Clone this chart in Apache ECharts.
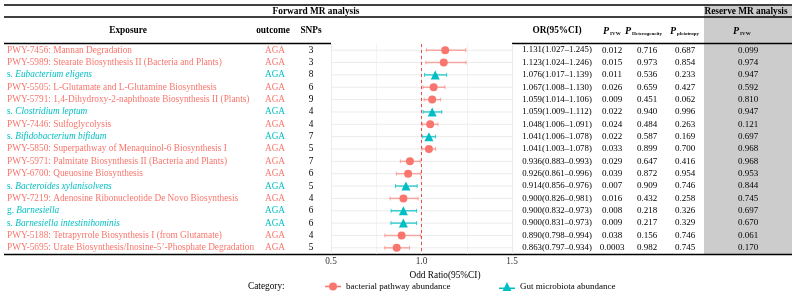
<!DOCTYPE html>
<html>
<head>
<meta charset="utf-8">
<script src="https://cdn.jsdelivr.net/npm/echarts@6/dist/echarts.min.js"></script>
<style>
  html, body { margin: 0; padding: 0; background: #fff; }
  #chart { width: 796px; height: 295px; }
</style>
</head>
<body>
<div id="chart"></div>
<script>
  // 数据
  const exposures = [
    'PWY-7456: Mannan Degradation',
    'PWY-5989: Stearate Biosynthesis II (Bacteria and Plants)',
    's. Eubacterium eligens',
    'PWY-5505: L-Glutamate and L-Glutamine Biosynthesis',
    'PWY-5791: 1,4-Dihydroxy-2-naphthoate Biosynthesis II (Plants)',
    's. Clostridium leptum',
    'PWY-7446: Sulfoglycolysis',
    's. Bifidobacterium bifidum',
    'PWY-5850: Superpathway of Menaquinol-6 Biosynthesis I',
    'PWY-5971: Palmitate Biosynthesis II (Bacteria and Plants)',
    'PWY-6700: Queuosine Biosynthesis',
    's. Bacteroides xylanisolvens',
    'PWY-7219: Adenosine Ribonucleotide De Novo Biosynthesis',
    'g. Barnesiella',
    's. Barnesiella intestinihominis',
    'PWY-5188: Tetrapyrrole Biosynthesis I (from Glutamate)',
    'PWY-5695: Urate Biosynthesis/Inosine-5\u2019-Phosphate Degradation'
  ]
  // 0 = bacterial pathway, 1 = gut microbiota
  const kinds = [0, 0, 1, 0, 0, 1, 0, 1, 0, 0, 0, 1, 0, 1, 1, 0, 0]
  const outcome = 'AGA'
  const snps = [3, 3, 8, 6, 9, 4, 4, 7, 5, 7, 6, 5, 4, 6, 6, 4, 5]
  const orVals = [1.131, 1.123, 1.076, 1.067, 1.059, 1.059, 1.048, 1.041, 1.041, 0.936, 0.926, 0.914, 0.900, 0.900, 0.900, 0.890, 0.863]
  const ciLow = [1.027, 1.024, 1.017, 1.008, 1.014, 1.009, 1.006, 1.006, 1.003, 0.883, 0.861, 0.856, 0.826, 0.832, 0.831, 0.798, 0.797]
  const ciHigh = [1.245, 1.246, 1.139, 1.130, 1.106, 1.112, 1.091, 1.078, 1.078, 0.993, 0.996, 0.976, 0.981, 0.973, 0.973, 0.994, 0.934]
  const pIvw = ['0.012', '0.015', '0.011', '0.026', '0.009', '0.022', '0.024', '0.022', '0.033', '0.029', '0.039', '0.007', '0.016', '0.008', '0.009', '0.038', '0.0003']
  const pHet = ['0.716', '0.973', '0.536', '0.659', '0.451', '0.940', '0.484', '0.587', '0.899', '0.647', '0.872', '0.909', '0.432', '0.218', '0.217', '0.156', '0.982']
  const pPleio = ['0.687', '0.854', '0.233', '0.427', '0.062', '0.996', '0.263', '0.169', '0.700', '0.416', '0.954', '0.746', '0.258', '0.326', '0.329', '0.746', '0.745']
  const pReverse = ['0.099', '0.974', '0.947', '0.592', '0.810', '0.947', '0.121', '0.697', '0.968', '0.968', '0.953', '0.844', '0.745', '0.697', '0.670', '0.061', '0.170']
  const xTicks = [0.5, 1.0, 1.5]
  const groupNames = ['bacterial pathway abundance', 'Gut microbiota abundance']

  const FONT = '"Liberation Serif", "Times New Roman", serif'
  const RED = '#F8766D'
  const TEAL = '#00BFC4'
  const BAR = ['rgba(248,118,109,0.6)', 'rgba(0,191,196,0.75)']
  const TXT = [RED, TEAL]

  const rows = exposures.map((_, i) => String(i))

  // 误差线 + 行网格线
  function renderBar(params, api) {
    const row = api.value(0)
    const a = api.coord([api.value(1), row])
    const b = api.coord([api.value(2), row])
    const y = a[1]
    const cs = params.coordSys
    const col = BAR[api.value(3)]
    return {
      type: 'group',
      children: [
        { type: 'line', shape: { x1: cs.x, y1: y, x2: cs.x + cs.width, y2: y }, style: { stroke: '#ebebeb', lineWidth: 1 } },
        { type: 'line', shape: { x1: a[0], y1: y, x2: b[0], y2: y }, style: { stroke: col, lineWidth: 1.5 } },
        { type: 'line', shape: { x1: a[0], y1: y - 2, x2: a[0], y2: y + 2 }, style: { stroke: col, lineWidth: 1 } },
        { type: 'line', shape: { x1: b[0], y1: y - 2, x2: b[0], y2: y + 2 }, style: { stroke: col, lineWidth: 1 } }
      ]
    }
  }

  // 表格文字
  function renderTable(params, api) {
    const i = api.value(0)
    const y = api.coord([1, i])[1]
    const k = kinds[i]
    const col = TXT[k]
    const name = exposures[i]
    let label = name
    if (k === 1) {
      label = '{n|' + name.slice(0, 3) + '}{i|' + name.slice(3) + '}'
    }
    const orText = orVals[i].toFixed(3) + '(' + ciLow[i].toFixed(3) + '\u2013' + ciHigh[i].toFixed(3) + ')'
    const cell = (x, text, fill, size) => ({
      type: 'text',
      style: { x: x, y: y, text: text, fill: fill, font: size + 'px ' + FONT, textAlign: 'center', textVerticalAlign: 'middle' }
    })
    const first = {
      type: 'text',
      style: {
        x: 7, y: y, text: label, fill: col, textAlign: 'left', textVerticalAlign: 'middle',
        font: '9.3px ' + FONT,
        rich: {
          n: { fontSize: 9.3, fontFamily: FONT, fill: col },
          i: { fontSize: 9.3, fontFamily: FONT, fontStyle: 'italic', fill: col }
        }
      }
    }
    return {
      type: 'group',
      children: [
        first,
        cell(275, outcome, col, 9.3),
        cell(311, String(snps[i]), '#000', 9.3),
        cell(557, orText, '#000', 8.8),
        cell(612, pIvw[i], '#000', 9),
        cell(647, pHet[i], '#000', 9),
        cell(685, pPleio[i], '#000', 9),
        cell(748, pReverse[i], '#000', 9)
      ]
    }
  }

  const pHead = (x, sub) => ({
    type: 'text', left: x, top: 26,
    style: {
      text: '{p|P}{s|' + sub + '}',
      rich: {
        p: { fontFamily: FONT, fontSize: 10, fontWeight: 'bold', fontStyle: 'italic', fill: '#000' },
        s: { fontFamily: FONT, fontSize: 5, fontWeight: 'bold', fill: '#000', verticalAlign: 'bottom', padding: [4, 0, 0, 1] }
      }
    }
  })
  const head = (x, y, text) => ({
    type: 'text', x: x, y: y,
    style: { text: text, font: 'bold 9.3px ' + FONT, fill: '#000', textAlign: 'center', textVerticalAlign: 'middle' }
  })
  const hline = (x1, x2, y, w) => ({
    type: 'line', shape: { x1: x1, y1: y, x2: x2, y2: y }, style: { stroke: '#000', lineWidth: w || 1.5 }
  })

  const chart = echarts.init(document.getElementById('chart'))
  chart.setOption({
    animation: false,
    textStyle: { fontFamily: FONT },
    grid: { left: 331, width: 181, top: 44, height: 210 },
    xAxis: {
      type: 'value',
      min: 0.5,
      max: 1.5,
      interval: 0.5,
      axisLine: { show: false },
      axisTick: { show: false },
      axisLabel: {
        margin: 3, fontSize: 9.3, color: '#333', fontFamily: FONT,
        formatter: (v) => xTicks.includes(v) ? v.toFixed(1) : ''
      },
      splitLine: { show: true, lineStyle: { color: '#ebebeb', width: 1 } },
      minorTick: { show: false, splitNumber: 2 },
      minorSplitLine: { show: true, lineStyle: { color: '#f3f3f3', width: 1 } },
      name: 'Odd Ratio(95%CI)',
      nameLocation: 'middle',
      nameGap: 13,
      nameTextStyle: { fontSize: 9.3, color: '#000', fontFamily: FONT, padding: [0, 0, 0, 47] }
    },
    yAxis: {
      type: 'category',
      data: rows,
      inverse: true,
      axisLine: { show: false },
      axisTick: { show: false },
      axisLabel: { show: false },
      splitLine: { show: false }
    },
    legend: [
      {
        left: 325, top: 282, padding: 0, itemWidth: 16, itemHeight: 9, itemGap: 0,
        textStyle: { fontSize: 9, fontFamily: FONT, color: '#000' },
        data: [{ name: groupNames[0], icon: 'path://M0,4.2 L16,4.2 L16,5.8 L0,5.8 Z M4,5 A4,4 0 1,1 12,5 A4,4 0 1,1 4,5 Z' }]
      },
      {
        left: 499, top: 282, padding: 0, itemWidth: 16, itemHeight: 9, itemGap: 0,
        textStyle: { fontSize: 9, fontFamily: FONT, color: '#000' },
        data: [{ name: groupNames[1], icon: 'path://M0,5.6 L16,5.6 L16,7 L0,7 Z M8,0 L12.5,9 L3.5,9 Z' }]
      }
    ],
    graphic: [
      { type: 'rect', shape: { x: 704, y: 6, width: 88, height: 248 }, style: { fill: '#cccccc' } },
      hline(4, 792, 5),
      hline(4, 792, 17),
      hline(4, 331, 43.5),
      hline(512, 792, 43.5),
      hline(4, 792, 254.5),
      head(316, 11.5, 'Forward MR analysis'),
      head(746, 12, 'Reserve MR analysis'),
      head(128, 31, 'Exposure'),
      head(273, 31, 'outcome'),
      head(311, 31, 'SNPs'),
      head(557, 31, 'OR(95%CI)'),
      pHead(603, 'IVW'),
      pHead(625, 'Heterogeneity'),
      pHead(670, 'pleiotropy'),
      pHead(733, 'IVW'),
      {
        type: 'text', x: 248, y: 287,
        style: { text: 'Category:', font: '9.3px ' + FONT, fill: '#000', textVerticalAlign: 'middle' }
      }
    ],
    series: [
      {
        type: 'custom',
        name: 'ci',
        renderItem: renderBar,
        encode: { x: [1, 2], y: 0 },
        data: rows.map((r, i) => [i, ciLow[i], ciHigh[i], kinds[i]]),
        markLine: {
          silent: true,
          symbol: 'none',
          label: { show: false },
          lineStyle: { color: '#EE4B4B', type: [3, 3], width: 1 },
          data: [{ xAxis: 1 }]
        },
        z: 2
      },
      {
        type: 'scatter',
        name: groupNames[0],
        symbol: 'circle',
        symbolSize: 8,
        itemStyle: { color: RED, opacity: 1 },
        data: orVals.map((v, i) => kinds[i] === 0 ? [v, i] : null).filter(Boolean),
        z: 4
      },
      {
        type: 'scatter',
        name: groupNames[1],
        symbol: 'triangle',
        symbolSize: 9,
        itemStyle: { color: TEAL, opacity: 1 },
        data: orVals.map((v, i) => kinds[i] === 1 ? [v, i] : null).filter(Boolean),
        z: 4
      },
      {
        type: 'custom',
        name: 'table',
        renderItem: renderTable,
        encode: { x: 1, y: 0 },
        data: rows.map((r, i) => [i, 1]),
        z: 5,
        silent: true
      }
    ]
  })
</script>
</body>
</html>
